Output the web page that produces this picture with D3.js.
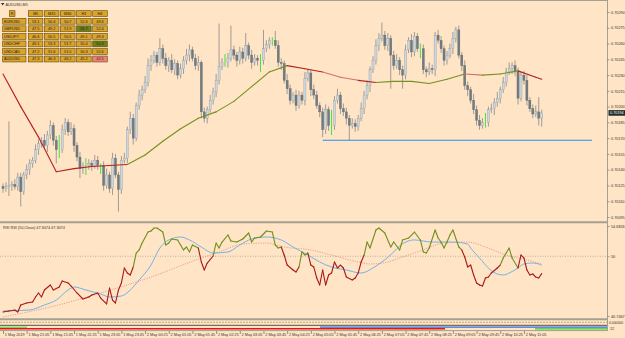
<!DOCTYPE html>
<html><head><meta charset="utf-8">
<script src="https://cdn.jsdelivr.net/npm/d3@7"></script>
<style>html,body{margin:0;padding:0;background:#ffe4c6}svg{display:block}</style>
</head><body>
<svg id="c" width="625" height="338"></svg>
<script>
// ---------------- DATA ----------------
const symbolTitle = "AUDUSD,M5";
const priceTicks = [0.70290,0.70275,0.70260,0.70245,0.70230,0.70215,0.70200,0.70185,0.70170,0.70155,0.70140,0.70125,0.70110,0.70095];
const lastPrice = 0.70194;
const firstOpen = 0.70124;
const closes = [
0.70122,0.70124,0.70125,0.70126,0.70124,0.70133,0.70119,0.70135,0.70140,0.70146,
0.70149,0.70159,0.70165,0.70168,0.70163,0.70173,0.70182,0.70168,0.70159,0.70159,
0.70178,0.70185,0.70176,0.70179,0.70163,0.70152,0.70141,0.70144,0.70144,0.70146,
0.70144,0.70149,0.70144,0.70144,0.70125,0.70135,0.70122,0.70151,0.70135,0.70121,
0.70149,0.70151,0.70178,0.70189,0.70170,0.70201,0.70211,0.70216,0.70223,0.70239,
0.70244,0.70249,0.70242,0.70255,0.70246,0.70239,0.70244,0.70235,0.70241,0.70230,
0.70236,0.70244,0.70249,0.70254,0.70246,0.70239,0.70242,0.70195,0.70189,0.70197,
0.70206,0.70214,0.70225,0.70238,0.70242,0.70242,0.70246,0.70254,0.70249,0.70244,
0.70252,0.70246,0.70258,0.70249,0.70242,0.70246,0.70244,0.70244,0.70255,0.70259,
0.70263,0.70263,0.70258,0.70242,0.70241,0.70225,0.70217,0.70206,0.70211,0.70201,
0.70211,0.70206,0.70227,0.70232,0.70216,0.70211,0.70201,0.70195,0.70178,0.70197,
0.70182,0.70182,0.70206,0.70211,0.70198,0.70195,0.70189,0.70182,0.70184,0.70181,
0.70189,0.70198,0.70211,0.70220,0.70235,0.70244,0.70258,0.70265,0.70268,0.70258,
0.70265,0.70249,0.70239,0.70244,0.70235,0.70230,0.70254,0.70263,0.70252,0.70267,
0.70255,0.70255,0.70235,0.70233,0.70236,0.70235,0.70268,0.70263,0.70255,0.70244,
0.70249,0.70255,0.70265,0.70273,0.70249,0.70239,0.70220,0.70216,0.70206,0.70197,
0.70187,0.70182,0.70185,0.70185,0.70197,0.70198,0.70204,0.70208,0.70216,0.70223,
0.70233,0.70236,0.70239,0.70233,0.70208,0.70230,0.70225,0.70206,0.70198,0.70193,
0.70195,0.70189,0.70194];
// wick lengths in points (0.00001)
const wickUp = [
3,4,61,3,5,4,4,3,5,4, 3,5,4,3,6,4,5,3,4,14, 5,4,3,6,4,3,5,3,7,4, 3,5,4,2,4,6,3,5,4,3,
4,5,3,6,4,3,5,4,6,7, 5,4,3,10,4,5,3,6,4,3, 5,4,6,5,3,4,6,2,4,3, 5,4,6,41,4,8,5,23,4,3,
5,4,12,3,5,4,3,6,18,4, 3,3,9,5,4,3,6,4,3,5, 4,3,6,4,3,5,4,3,4,5, 3,15,4,6,3,5,4,3,5,4,
3,6,4,5,3,4,6,5,12,4, 5,3,4,6,3,4,5,3,6,4, 3,5,4,3,6,4,3,5,4,3, 4,5,6,3,4,3,5,4,3,6,
4,5,4,9,3,5,4,6,3,5, 4,6,3,5,4,3,4,5,3,4, 6,14,3];
const wickDn = [
4,3,9,5,3,4,14,3,4,5, 4,3,5,4,3,6,4,5,13,8, 3,5,4,3,6,4,9,5,9,4, 5,3,4,8,5,3,4,6,3,21,
4,3,5,4,6,3,4,5,3,4, 5,3,4,3,5,4,6,3,5,4, 3,5,4,6,3,4,5,6,4,5, 3,4,5,4,3,4,5,3,4,6,
4,5,3,4,6,3,5,11,4,3, 4,5,3,4,6,3,5,4,3,5, 3,4,5,3,6,4,3,5,7,4, 5,9,4,3,5,4,6,14,3,5,
4,3,5,4,6,3,4,5,3,4, 5,32,4,3,5,13,4,3,5,4, 3,9,4,5,3,4,6,3,4,5, 4,3,5,4,3,5,4,6,3,4,
5,4,3,5,4,3,6,4,5,3, 4,3,5,4,6,3,4,5,3,4, 3,7,8];
const dojiBars = [19,28,33,75,87,91,111,141,163];
const maIdx = [0,6,12,18,24,30,36,42,48,54,60,66,72,78,84,90,96,102,108,114,120,126,132,138,144,150,156,162,168,174,180,182];
const maVal = [0.70231,0.70200,0.70171,0.70138,0.70141,0.70143,0.70144,0.70145,0.70154,0.70167,
0.70179,0.70189,0.70195,0.70205,0.70219,0.70233,0.70239,0.70236,0.70233,0.70228,
0.70225,0.70223,0.70224,0.70224,0.70222,0.70226,0.70231,0.70230,0.70231,0.70234,0.70228,0.70226];
const maTrend = [-1,-1,-1,-1,-1,-1,-1, 1,1,1,1,1,1,1,1,1, -1,-1, 0,0, -1, 1,1,1,1,1, 0, 1,1, -1,-1];
const levelPrice = 0.70168, levelFrom = 108, levelTo = 199;

const rsiTitle = "RSI RSI (50,Close) 47.3074 47.3074";
const rsiTicks = [54.6826, 50, 40.7467];
const rsiIdx = [0,2,4,5,6,8,10,11,12,13,14,16,17,19,20,22,23,25,27,29,30,32,33,35,36,37,38,39,40,41,42,43,44,45,46,47,49,50,51,52,54,55,56,57,59,60,61,62,63,64,66,67,68,69,71,72,73,74,76,77,79,81,83,84,85,87,89,91,92,93,94,95,96,98,99,100,101,102,103,104,105,106,107,108,109,110,111,112,113,114,115,116,118,119,120,121,122,123,124,126,127,129,131,132,134,135,137,139,141,142,143,144,146,147,148,149,150,151,152,154,155,156,157,158,159,160,161,162,163,164,165,167,168,169,170,171,172,174,175,176,177,178,179,180,181,182];
const rsiVal = [41.36,41.52,41.68,41.36,42.45,42.76,42.92,43.69,44.31,43.69,44.77,45.55,44.77,45.24,46.17,45.86,45.39,44.31,43.38,43.69,44.00,44.31,43.53,42.61,45.08,43.22,42.76,44.77,45.86,48.18,47.40,47.10,48.33,50.50,50.97,52.05,53.75,53.91,54.37,54.37,53.75,51.74,52.05,52.67,52.52,51.74,50.97,51.43,50.66,51.74,51.27,49.11,47.87,48.95,50.04,52.05,51.27,52.20,53.29,52.36,52.20,52.67,53.60,52.20,52.82,52.98,53.91,53.75,51.74,51.27,51.43,50.19,48.64,47.87,47.56,48.33,50.66,50.19,50.50,48.64,48.33,46.63,45.55,47.87,45.55,47.10,47.40,49.11,48.18,48.64,48.18,46.78,46.32,46.63,47.40,49.11,50.19,52.20,51.27,54.06,54.37,53.60,51.43,52.20,50.97,52.52,52.82,53.75,52.52,50.66,50.50,51.27,54.06,52.82,52.20,51.27,52.20,53.29,54.06,51.43,50.97,49.88,48.33,48.64,47.10,45.86,45.55,45.39,46.63,46.78,47.40,48.18,48.64,49.73,50.50,51.27,49.73,48.18,50.19,49.73,47.87,47.10,47.25,46.78,46.63,47.31];
const rsiGreenRanges = [[45,66],[72,94],[101,103],[123,155],[169,174]];
const sigIdx = [0,9,14,18,22,24,28,33,36,40,43,46,50,53,56,60,63,67,71,76,80,84,89,94,98,103,107,111,116,121,125,128,132,134,139,145,152,157,158,161,164,167,169,171,174,176,179,182];
const sigVal = [41.52,41.68,42.45,43.22,44.77,45.24,44.77,44.15,43.69,43.84,44.77,46.32,48.64,51.27,52.52,52.98,52.52,51.43,50.50,50.66,51.74,52.67,52.98,52.52,51.43,50.19,49.11,48.33,47.87,47.40,48.18,49.11,50.66,51.58,52.52,52.20,52.20,51.89,51.27,49.73,48.18,47.25,47.10,47.40,48.18,48.80,48.95,48.64];
const slowIdx = [0,16,33,50,67,73,81,89,95,104,111,120,124,130,134,141,149,157,163,170,177,182];
const slowVal = [40.60,42.14,44.31,46.78,49.73,50.66,51.89,52.05,51.43,50.97,50.19,49.11,48.80,49.11,49.73,50.81,52.05,52.20,51.43,50.19,49.42,48.80];

const timeLabels = ["1 May 2019","1 May 21:05","1 May 21:45","1 May 22:25","1 May 23:05","1 May 23:45",
"2 May 00:25","2 May 01:05","2 May 01:45","2 May 02:25","2 May 03:05","2 May 03:45","2 May 04:25",
"2 May 05:05","2 May 05:45","2 May 06:25","2 May 07:05","2 May 07:45","2 May 08:25","2 May 09:05",
"2 May 09:45","2 May 10:25","2 May 11:05"];
const barsPerLabel = 8;

const tableSymbols = ["EURUSD","GBPUSD","USDJPY","USDCHF","USDCAD","AUDUSD"];
const tableFrames = ["M5","M15","M30","H1","H4"];
const tableVals = [
[53.1,50.4,50.7,52.6,49.6],
[47.5,49.2,51.9,56.7,52.4],
[46.6,50.5,50.5,49.1,49.3],
[49.1,53.3,51.7,50.4,55.3],
[47.2,51.6,51.5,50.3,52.6],
[47.3,46.3,46.2,45.2,42.5]];
const subLabels = ["0.000000","12"];

// ---------------- DRAW ----------------
const W=625,H=338, axisX=607.5;
const font='"Liberation Sans", Arial, sans-serif';
const svg=d3.select('#c');
svg.append('rect').attr('width',W).attr('height',H).attr('fill','#ffe4c6');
const defs=svg.append('defs');
defs.append('clipPath').attr('id','clipMain').append('rect').attr('x',0).attr('y',1).attr('width',607).attr('height',220);
defs.append('clipPath').attr('id','clipRsi').append('rect').attr('x',0).attr('y',223.5).attr('width',607).attr('height',94.5);

const x=d3.scaleLinear().domain([0,182]).range([3,541.7]);
const y=d3.scaleLinear().domain([0.70095,0.70290]).range([217,12]);
const yr=d3.scaleLinear().domain([40.7467,54.6826]).range([316,226]);

// frame
const frameCol='#a3a192';
svg.append('line').attr('x1',0).attr('x2',axisX).attr('y1',0.5).attr('y2',0.5).attr('stroke',frameCol).attr('stroke-width',1);
svg.append('line').attr('x1',axisX).attr('x2',axisX).attr('y1',0).attr('y2',331).attr('stroke',frameCol).attr('stroke-width',1);
svg.append('line').attr('x1',0).attr('x2',axisX).attr('y1',222.3).attr('y2',222.3).attr('stroke',frameCol).attr('stroke-width',2);
svg.append('line').attr('x1',0).attr('x2',axisX).attr('y1',319.3).attr('y2',319.3).attr('stroke',frameCol).attr('stroke-width',2);

// main chart
const gm=svg.append('g').attr('clip-path','url(#clipMain)');
const bars=closes.map((c,i)=>{
  const o=i?closes[i-1]:firstOpen;
  return {i,o,c,h:Math.max(o,c)+wickUp[i]*1e-5,l:Math.min(o,c)-wickDn[i]*1e-5,doji:dojiBars.includes(i)};
});
const normal=bars.filter(b=>!b.doji);
gm.selectAll('line.wick').data(normal).join('line').attr('class','wick')
 .attr('x1',b=>x(b.i)).attr('x2',b=>x(b.i)).attr('y1',b=>y(b.h)).attr('y2',b=>y(b.l))
 .attr('stroke','#85898a').attr('stroke-width',0.8);
gm.selectAll('rect.body').data(normal).join('rect').attr('class','body')
 .attr('x',b=>x(b.i)-1.05).attr('width',2.1)
 .attr('y',b=>y(Math.max(b.o,b.c)))
 .attr('height',b=>Math.max(0.8,y(Math.min(b.o,b.c))-y(Math.max(b.o,b.c))))
 .attr('fill',b=>b.c>=b.o?'#cbd7e0':'#727c80')
 .attr('stroke',b=>b.c>=b.o?'#8d979c':'#5f686b').attr('stroke-width',0.35);
gm.selectAll('line.doji').data(bars.filter(b=>b.doji)).join('line').attr('class','doji')
 .attr('x1',b=>x(b.i)).attr('x2',b=>x(b.i)).attr('y1',b=>y(b.h)).attr('y2',b=>y(b.l))
 .attr('stroke','#45e045').attr('stroke-width',1);

// MA
const maCol=t=>t>0?'#74921e':(t<0?'#b3201d':'#d4706a');
for(let k=1;k<maIdx.length;k++){
  gm.append('line').attr('x1',x(maIdx[k-1])).attr('y1',y(maVal[k-1])).attr('x2',x(maIdx[k])).attr('y2',y(maVal[k]))
   .attr('stroke',maCol(maTrend[k-1])).attr('stroke-width',1.1).attr('stroke-linecap','round');
}
// level line
gm.append('line').attr('x1',x(levelFrom)).attr('x2',x(levelTo)).attr('y1',y(levelPrice)).attr('y2',y(levelPrice))
 .attr('stroke','#2a8ef0').attr('stroke-width',1.2);

// price axis
const pa=svg.append('g').attr('transform',`translate(${axisX},0)`)
 .call(d3.axisRight(y).tickValues(priceTicks).tickSize(2).tickPadding(1.5).tickFormat(d3.format('.5f')));
pa.select('.domain').remove();
pa.selectAll('line').attr('stroke','#666').attr('stroke-width',0.6);
pa.selectAll('text').attr('font-family',font).attr('font-size',3.8).attr('fill','#333');
svg.append('rect').attr('x',608.5).attr('y',y(lastPrice)-2.8).attr('width',16.5).attr('height',5.6).attr('fill','#1d2c2c');
svg.append('text').attr('x',610).attr('y',y(lastPrice)+1.4).attr('font-family',font).attr('font-size',3.8).attr('fill','#ffffff').text(lastPrice.toFixed(5));

// title
svg.append('path').attr('d','M1,3 L4.4,3 L2.7,5.6 Z').attr('fill','#333');
svg.append('text').attr('x',5.5).attr('y',6.3).attr('font-family',font).attr('font-size',3.8).attr('fill','#333').text(symbolTitle);

// table
const colX=k=>28.3+16.1*k, rowY=r=>18.3+7.55*r;
const cellFill=v=>v>55?'#6e7f16':(v<45?'#f08078':'#dba327');
const tg=svg.append('g').attr('font-family',font).attr('font-size',3.8);
tg.append('rect').attr('x',9.3).attr('y',10.7).attr('width',5.7).attr('height',5.9).attr('fill','#dba327').attr('stroke','#5e4a12').attr('stroke-width',0.6);
tg.append('text').attr('x',12.15).attr('y',15).attr('text-anchor','middle').attr('fill','#222').text('R');
tableFrames.forEach((f,k)=>{
  tg.append('rect').attr('x',colX(k)).attr('y',10.7).attr('width',14.6).attr('height',5.9).attr('fill','#dba327').attr('stroke','#5e4a12').attr('stroke-width',0.6);
  tg.append('text').attr('x',colX(k)+7.3).attr('y',15).attr('text-anchor','middle').attr('fill','#222').text(f);
});
tableSymbols.forEach((s,r)=>{
  tg.append('rect').attr('x',2.7).attr('y',rowY(r)).attr('width',23.3).attr('height',5.9).attr('fill','#dba327').attr('stroke','#5e4a12').attr('stroke-width',0.6);
  tg.append('text').attr('x',4).attr('y',rowY(r)+4.3).attr('fill','#222').text(s);
  tableVals[r].forEach((v,k)=>{
    tg.append('rect').attr('x',colX(k)).attr('y',rowY(r)).attr('width',14.6).attr('height',5.9).attr('fill',cellFill(v)).attr('stroke','#5e4a12').attr('stroke-width',0.6);
    tg.append('text').attr('x',colX(k)+7.3).attr('y',rowY(r)+4.3).attr('text-anchor','middle').attr('fill','#222').text(v.toFixed(1));
  });
});

// RSI panel
const gr=svg.append('g').attr('clip-path','url(#clipRsi)');
gr.append('line').attr('x1',0).attr('x2',607).attr('y1',yr(50)).attr('y2',yr(50)).attr('stroke','#9a9a9a').attr('stroke-width',0.7).attr('stroke-dasharray','1,1.5');
const slowPts=slowIdx.map((d,k)=>[x(d),yr(slowVal[k])]);
gr.append('path').attr('d',d3.line().curve(d3.curveMonotoneX)(slowPts)).attr('fill','none').attr('stroke','#e0907e').attr('stroke-width',0.8).attr('stroke-dasharray','1.2,1.2');
const sigPts=sigIdx.map((d,k)=>[x(d),yr(sigVal[k])]);
gr.append('path').attr('d',d3.line().curve(d3.curveMonotoneX)(sigPts)).attr('fill','none').attr('stroke','#74b2e6').attr('stroke-width',1);
const isGreen=i=>rsiGreenRanges.some(([a,b])=>i>=a&&i<=b);
for(let k=1;k<rsiIdx.length;k++){
  gr.append('line').attr('x1',x(rsiIdx[k-1])).attr('y1',yr(rsiVal[k-1])).attr('x2',x(rsiIdx[k])).attr('y2',yr(rsiVal[k]))
   .attr('stroke',isGreen(rsiIdx[k])?'#6f8f1c':'#a81818').attr('stroke-width',1.1).attr('stroke-linecap','round');
}
svg.append('text').attr('x',3).attr('y',229).attr('font-family',font).attr('font-size',3.8).attr('fill','#333').text(rsiTitle);
const ra=svg.append('g').attr('transform',`translate(${axisX},0)`)
 .call(d3.axisRight(yr).tickValues(rsiTicks).tickSize(2).tickPadding(1.5).tickFormat(d=>d===50?'50':d.toFixed(4)));
ra.select('.domain').remove();
ra.selectAll('line').attr('stroke','#666').attr('stroke-width',0.6);
ra.selectAll('text').attr('font-family',font).attr('font-size',3.8).attr('fill','#333');

// bottom strip
svg.append('line').attr('x1',0).attr('x2',607).attr('y1',322.3).attr('y2',322.3).attr('stroke','#8c8a4a').attr('stroke-width',0.6).attr('stroke-dasharray','2,1');
svg.append('line').attr('x1',0).attr('x2',607).attr('y1',325.3).attr('y2',325.3).attr('stroke','#2d2d2d').attr('stroke-width',0.8);
svg.append('line').attr('x1',0).attr('x2',27).attr('y1',327.2).attr('y2',327.2).attr('stroke','#3ccf3c').attr('stroke-width',1);
svg.append('line').attr('x1',0).attr('x2',445).attr('y1',328.8).attr('y2',328.8).attr('stroke','#e01818').attr('stroke-width',1.5);
svg.append('line').attr('x1',320).attr('x2',607).attr('y1',327.2).attr('y2',327.2).attr('stroke','#2f6fe0').attr('stroke-width',1.3);
svg.append('line').attr('x1',535).attr('x2',607).attr('y1',328.8).attr('y2',328.8).attr('stroke','#2fd02f').attr('stroke-width',1.3);
svg.append('line').attr('x1',0).attr('x2',607).attr('y1',330.6).attr('y2',330.6).attr('stroke',frameCol).attr('stroke-width',1);
svg.append('text').attr('x',609).attr('y',323.8).attr('font-family',font).attr('font-size',3.4).attr('fill','#333').text(subLabels[0]);
svg.append('text').attr('x',610).attr('y',329.6).attr('font-family',font).attr('font-size',3.8).attr('fill','#333').text(subLabels[1]);

// time axis
const labelIdx=timeLabels.map((_,k)=>k*barsPerLabel);
const ta=svg.append('g').attr('transform','translate(0,331)')
 .call(d3.axisBottom(x).tickValues(labelIdx).tickSize(3).tickPadding(0).tickFormat((d,k)=>timeLabels[k]));
ta.select('.domain').remove();
ta.selectAll('line').attr('stroke','#555').attr('stroke-width',0.6);
ta.selectAll('text').attr('font-family',font).attr('font-size',3.8).attr('fill','#333')
 .attr('text-anchor','start').attr('dx',1.3).attr('dy',0).attr('y',5.2);
</script>
</body></html>
